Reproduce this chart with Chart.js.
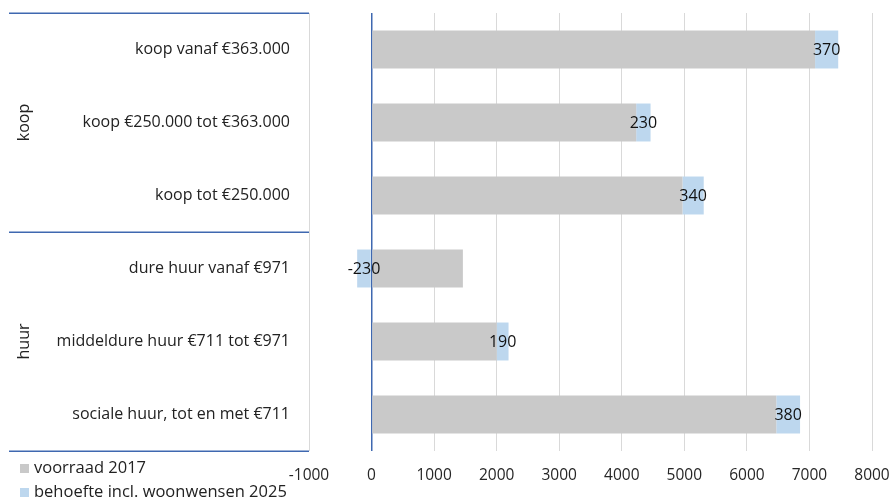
<!DOCTYPE html>
<html>
<head>
<meta charset="utf-8">
<script src="https://cdn.jsdelivr.net/npm/chart.js@4.4.1/dist/chart.umd.min.js"></script>
<style>
html,body{margin:0;padding:0;background:#fff;}
#wrap{width:893px;height:499px;position:relative;}
</style>
</head>
<body>
<div id="wrap"><canvas id="c" width="893" height="499"></canvas></div>
<script>
const categories = [
  'koop vanaf €363.000',
  'koop €250.000 tot €363.000',
  'koop tot €250.000',
  'dure huur vanaf €971',
  'middeldure huur €711 tot €971',
  'sociale huur, tot en met €711'
];
const groups = [
  { label: 'koop', from: 0, to: 2 },
  { label: 'huur', from: 3, to: 5 }
];
const seriesNames = ['voorraad 2017', 'behoefte incl. woonwensen 2025'];
const voorraad2017 = [7090, 4230, 4970, 1460, 2000, 6470];
const behoefte2025 = [370, 230, 340, -230, 190, 380];
const xTicks = [-1000, 0, 1000, 2000, 3000, 4000, 5000, 6000, 7000, 8000];

const FONT = "'Open Sans', 'Noto Sans', sans-serif";
const GREY = '#C9C9C9';
const BLUE = '#BDD7EE';
const LINE_BLUE = '#3F68B0';

const extrasPlugin = {
  id: 'extras',
  afterDatasetsDraw(chart) {
    const ctx = chart.ctx;
    const meta = chart.getDatasetMeta(1);
    ctx.save();
    ctx.font = '16px ' + FONT;
    ctx.fillStyle = '#111';
    ctx.textAlign = 'center';
    ctx.textBaseline = 'middle';
    meta.data.forEach((el, i) => {
      const cx = (el.x + el.base) / 2;
      ctx.fillText(String(chart.data.datasets[1].data[i]), cx, el.y + 1);
    });
    ctx.restore();
  },
  afterDraw(chart) {
    const ctx = chart.ctx;
    const ys = chart.scales.y;
    const area = chart.chartArea;
    const step = (ys.getPixelForValue(1) - ys.getPixelForValue(0));
    ctx.save();
    ctx.strokeStyle = LINE_BLUE;
    ctx.lineWidth = 1.5;
    const bounds = new Set();
    groups.forEach(g => {
      bounds.add(Math.round(ys.getPixelForValue(g.from) - step / 2));
      bounds.add(Math.round(ys.getPixelForValue(g.to) + step / 2));
    });
    bounds.forEach(yy => {
      const y = yy + 0.25;
      ctx.beginPath();
      ctx.moveTo(9, y);
      ctx.lineTo(area.left, y);
      ctx.stroke();
    });
    ctx.font = '16px ' + FONT;
    ctx.fillStyle = '#222';
    ctx.textAlign = 'center';
    ctx.textBaseline = 'middle';
    groups.forEach(g => {
      const cy = (ys.getPixelForValue(g.from) + ys.getPixelForValue(g.to)) / 2;
      ctx.save();
      ctx.translate(24, cy);
      ctx.rotate(-Math.PI / 2);
      ctx.fillText(g.label, 0, 0);
      ctx.restore();
    });
    ctx.font = '16.5px ' + FONT;
    ctx.textAlign = 'left';
    chart.data.datasets.forEach((ds, i) => {
      const y = 464 + i * 24;
      ctx.fillStyle = ds.backgroundColor;
      ctx.fillRect(20, y, 9, 9);
      ctx.fillStyle = '#222';
      ctx.fillText(ds.label, 34, y + 4.5);
    });
    ctx.restore();
  }
};

function zeroPad(s) { s.paddingTop = 0; s.paddingBottom = 0; s.paddingLeft = 0; s.paddingRight = 0; }

new Chart(document.getElementById('c'), {
  type: 'bar',
  data: {
    labels: categories,
    datasets: [
      { label: seriesNames[0], data: voorraad2017, backgroundColor: GREY,
        categoryPercentage: 1, barPercentage: 0.52 },
      { label: seriesNames[1], data: behoefte2025, backgroundColor: BLUE,
        categoryPercentage: 1, barPercentage: 0.52 }
    ]
  },
  options: {
    indexAxis: 'y',
    responsive: false,
    animation: false,
    layout: { padding: { left: 0, right: 21, top: 13, bottom: 0 } },
    plugins: { legend: { display: false }, tooltip: { enabled: false } },
    scales: {
      x: {
        stacked: true,
        min: -1000, max: 8000,
        afterBuildTicks: s => { s.ticks = xTicks.map(v => ({ value: v })); },
        afterFit: s => { s.height = 48; zeroPad(s); },
        border: { display: false },
        grid: {
          drawTicks: false,
          color: c => (c.tick && c.tick.value === 0) ? LINE_BLUE : '#D9D9D9',
          lineWidth: c => (c.tick && c.tick.value === 0) ? 1.5 : 1
        },
        ticks: { padding: 15, color: '#262626', font: { family: FONT, size: 15.5 }, maxRotation: 0,
          callback: v => String(v) }
      },
      y: {
        stacked: true,
        afterFit: s => { s.width = 309; zeroPad(s); },
        border: { display: false },
        grid: { display: false, drawTicks: false },
        ticks: { padding: 19, color: '#222', font: { family: FONT, size: 16 } }
      }
    }
  },
  plugins: [extrasPlugin]
});
</script>
</body>
</html>
